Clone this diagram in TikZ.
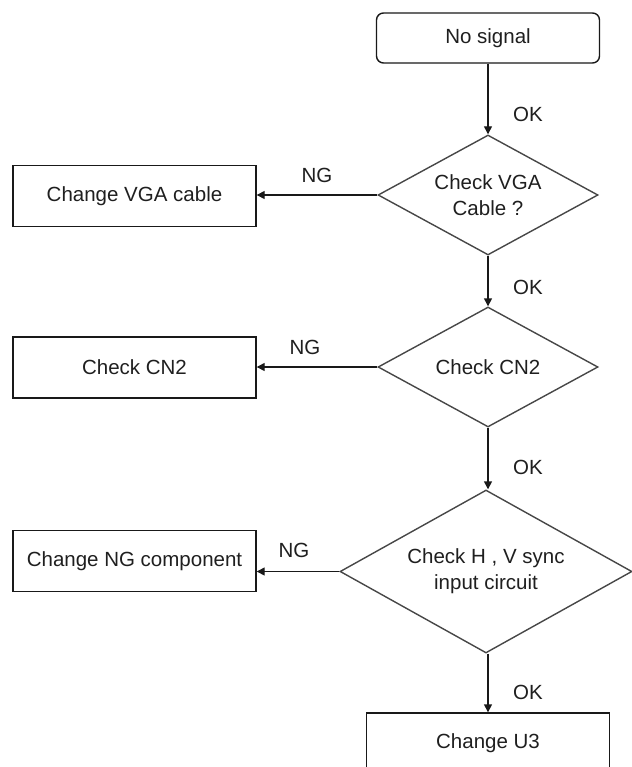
\documentclass[tikz,border=0pt]{standalone}
\usepackage{fontspec}
\setmainfont{Liberation Sans}
\usetikzlibrary{shapes.geometric,arrows.meta}
\begin{document}
\begin{tikzpicture}[x=1pt,y=-1pt,
  every node/.style={font=\fontsize{20.5}{26}\selectfont, text=black!88},
  procbox/.style={draw=black!90, line width=1.4pt, rectangle, inner sep=0pt, minimum width=243pt, minimum height=61pt},
  startbox/.style={procbox, rounded corners=7pt, minimum width=223pt, minimum height=50pt},
  decide/.style={draw=black!72, line width=1.4pt, diamond, aspect=1.83, inner sep=0pt, align=center},
  flow/.style={draw=black!90, line width=1.4pt, -{Triangle[length=8pt,width=8pt]}},
  lbl/.style={inner sep=0pt}
]
\useasboundingbox (0,0) rectangle (631,767);
% main column
\node[startbox] (start) at (488,38) {No signal};
\node[decide, minimum width=220pt, minimum height=120pt] (d1) at (488,195) {Check VGA\\Cable ?};
\node[decide, minimum width=220pt, minimum height=120pt] (d2) at (488,367) {Check CN2};
\node[decide, minimum width=292pt, minimum height=163pt] (d3) at (486,571.5) {Check H , V sync\\input circuit};
\node[procbox] (u3) at (488,743.5) {Change U3};
% side boxes
\node[procbox] (b1) at (134.5,196) {Change VGA cable};
\node[procbox] (b2) at (134.5,367.5) {Check CN2};
\node[procbox] (b3) at (134.5,561) {Change NG component};
% vertical connectors
\draw[flow] (start.south) -- (d1.north);
\draw[flow] (d1.south) -- (d2.north);
\draw[flow] (d2.south) -- (d2.south |- d3.north);
\draw[flow] (d2.south |- d3.south) -- (u3.north);
% horizontal connectors
\draw[flow] (d1.west) -- (d1.west -| b1.east);
\draw[flow] (d2.west) -- (d2.west -| b2.east);
\draw[flow] (d3.west) -- (d3.west -| b3.east);
% labels
\node[lbl] (ok1) at (528,114) {OK};
\node[lbl] (ok2) at (528,287) {OK};
\node[lbl] (ok3) at (528,467) {OK};
\node[lbl] (ok4) at (528,692) {OK};
\node[lbl] (ng1) at (317,175) {NG};
\node[lbl] (ng2) at (305,347) {NG};
\node[lbl] (ng3) at (294,550) {NG};
\end{tikzpicture}
\end{document}
